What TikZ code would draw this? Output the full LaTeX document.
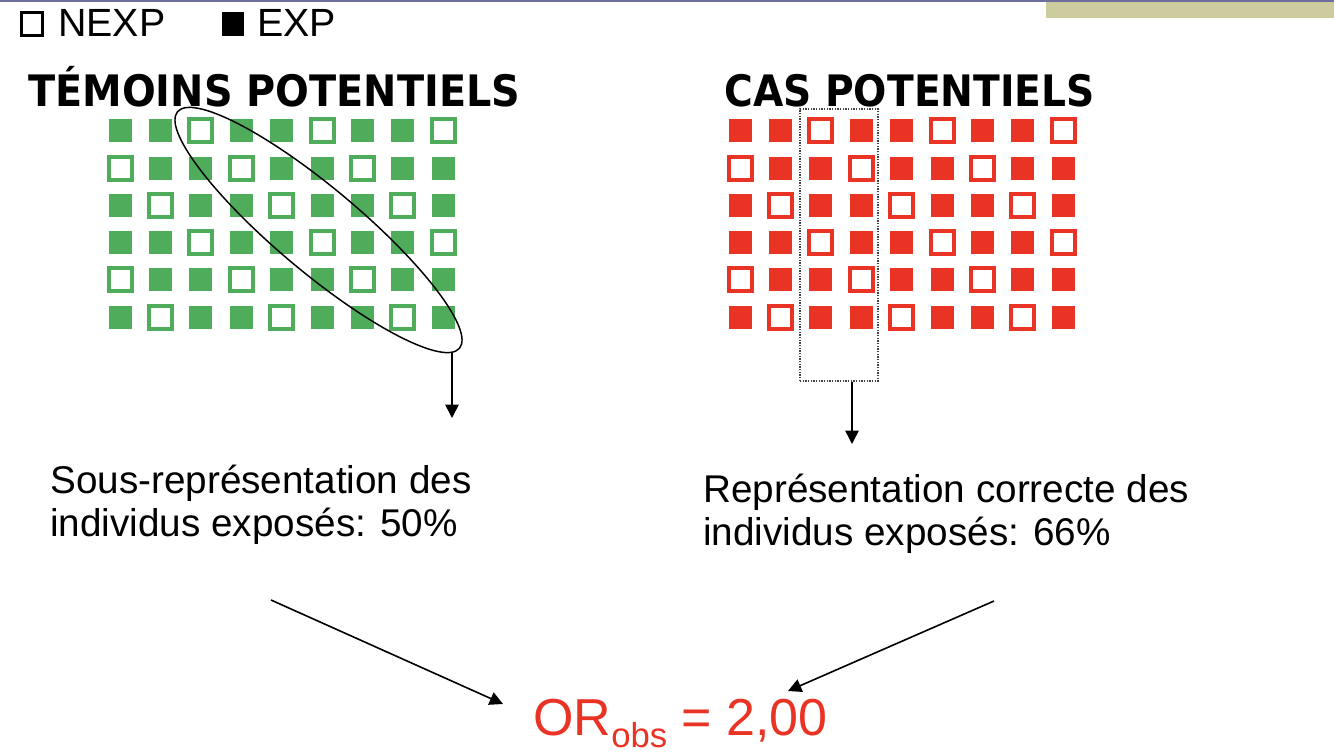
\documentclass[tikz,border=0pt]{standalone}
\usepackage{fontspec}
\setmainfont{Liberation Sans}
\newfontfamily\headfont{DejaVu Sans}
\usetikzlibrary{arrows.meta,shapes.geometric}
\definecolor{mygreen}{RGB}{78,172,91}
\definecolor{myred}{RGB}{233,51,37}
\definecolor{barblue}{RGB}{110,110,158}
\definecolor{khaki}{RGB}{204,204,159}
\tikzset{
  cellfill/.style={rectangle, inner sep=0pt, minimum size=17.25pt, fill=#1},
  cellopen/.style={rectangle, inner sep=0pt, minimum size=17.25pt, draw=#1, line width=3pt, fill=white},
  arr/.style={line width=1.2pt, -{Triangle[length=10pt,width=10pt]}},
  body/.style={font=\fontsize{29}{32}\selectfont, align=left, inner sep=0pt},
  headtxt/.style={anchor=base west, inner sep=0pt},
  legtxt/.style={anchor=base west, inner sep=0pt, font=\fontsize{29.5}{32}\selectfont},
}
\begin{document}
\begin{tikzpicture}[x=0.75pt,y=-0.75pt]
\useasboundingbox (0,0) rectangle (1334,752);
\fill[barblue] (0,0) rectangle (1334,2.5);
\fill[khaki] (1046,2.5) rectangle (1334,18);
% legend
\node[draw=black, line width=2.6pt, inner sep=0pt, minimum width=16pt, minimum height=17pt] (lopen) at (32,24) {};
\node[legtxt] (lnexp) at (58,37) {NEXP};
\node[fill=black, inner sep=0pt, minimum width=17pt, minimum height=18pt] (lfill) at (233,24) {};
\node[legtxt] (lexp) at (257,37) {EXP};
% headings
\node[headtxt] (htem) at (28,107) {\resizebox{369pt}{\height}{\headfont\bfseries\fontsize{32.5}{34}\selectfont TÉMOINS POTENTIELS}};
\node[headtxt] (hcas) at (724,107) {\resizebox{278pt}{\height}{\headfont\bfseries\fontsize{32.5}{34}\selectfont CAS POTENTIELS}};
% grids
\foreach \r in {0,...,5}{
  \foreach \c in {0,...,8}{
    \pgfmathtruncatemacro\m{mod(\c-\r+6,3)}
    \ifnum\m=2
      \node[cellopen=mygreen] (g-\r-\c) at ({120+40.4*\c},{131+37.2*\r}) {};
      \node[cellopen=myred] (r-\r-\c) at ({740+40.4*\c},{131+37.2*\r}) {};
    \else
      \node[cellfill=mygreen] (g-\r-\c) at ({120+40.4*\c},{131+37.2*\r}) {};
      \node[cellfill=myred] (r-\r-\c) at ({740+40.4*\c},{131+37.2*\r}) {};
    \fi
  }
}
% ellipse and dotted box
\node[ellipse, draw=black, line width=1.1pt, inner sep=0pt, minimum width=276pt, minimum height=63pt, rotate=-40] (ell) at (318.5,230) {};
\node[draw=black!75, dash pattern=on 1pt off 1pt, line width=1.1pt, inner sep=0pt, minimum width=58.5pt, minimum height=204pt] (box) at (839,245) {};
\coordinate (e1) at (452,352);
\coordinate (e2) at (452,418);
\draw[arr] (e1) -- (e2);
\coordinate (b2) at (852,444);
\draw[arr] (box.south -| b2) -- (b2);
% texts
\node[body, anchor=base west] (tl) at (50,536) {Sous-représentation des\\individus exposés: 50\%};
\node[body, anchor=base west] (tr) at (703,545) {Représentation correcte des\\individus exposés: 66\%};
\node[anchor=base west, inner sep=0pt, text=myred, font=\fontsize{39}{42}\selectfont] (or) at (533,735) {OR\raisebox{-9pt}{\fontsize{26}{28}\selectfont obs} = 2,00};
% bottom arrows
\coordinate (la) at (271,600);
\coordinate (lb) at (503,704);
\draw[arr] (la) -- (lb);
\coordinate (ra) at (994,601);
\coordinate (rb) at (788,691);
\draw[arr] (ra) -- (rb);
\end{tikzpicture}
\end{document}
